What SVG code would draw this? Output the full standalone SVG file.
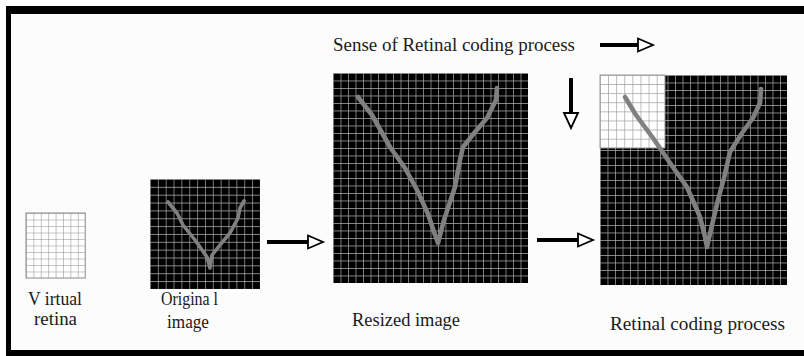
<svg xmlns="http://www.w3.org/2000/svg" width="804" height="356" viewBox="0 0 804 356">
  <defs>
    <style>
      .lbl { font-family: "Liberation Serif", "Times New Roman", serif; font-size: 18px; fill: #1a1a1a; }
      .stroke { fill: none; stroke: #808080; stroke-linecap: round; stroke-linejoin: round; }
      .shaft { stroke: #000; stroke-width: 4; fill: none; }
      .head { fill: #fff; stroke: #000; stroke-width: 1.8; stroke-linejoin: miter; }
    </style>
    <!-- cell grids: light lines on black, dark lines on white -->
    <pattern id="gOrig" patternUnits="userSpaceOnUse" x="150" y="179" width="7.85" height="7.85">
      <rect width="7.85" height="7.85" fill="#000"/>
      <path d="M0 0H7.85M0 0V7.85" stroke="#b4b4b4" stroke-width="1.3"/>
    </pattern>
    <pattern id="gBig" patternUnits="userSpaceOnUse" x="333" y="73" width="7.5" height="7.5">
      <rect width="7.5" height="7.5" fill="#000"/>
      <path d="M0 0H7.5M0 0V7.5" stroke="#b4b4b4" stroke-width="1.3"/>
    </pattern>
    <pattern id="gCode" patternUnits="userSpaceOnUse" x="600" y="75" width="7.5" height="7.5">
      <rect width="7.5" height="7.5" fill="#000"/>
      <path d="M0 0H7.5M0 0V7.5" stroke="#b4b4b4" stroke-width="1.3"/>
    </pattern>
    <pattern id="gWhite" patternUnits="userSpaceOnUse" x="600" y="75" width="8.1" height="9.1">
      <rect width="8.1" height="9.1" fill="#fff"/>
      <path d="M0 0H8.1M0 0V9.1" stroke="#9a9a9a" stroke-width="1.3"/>
    </pattern>
    <pattern id="gRetina" patternUnits="userSpaceOnUse" x="26" y="213" width="7.4" height="6.5">
      <rect width="7.4" height="6.5" fill="#fff"/>
      <path d="M0 0H7.4M0 0V6.5" stroke="#8a8a8a" stroke-width="1"/>
    </pattern>
  </defs>

  <!-- page and frame -->
  <rect width="804" height="356" fill="#ffffff"/>
  <rect x="11" y="14" width="793" height="336" fill="#fcfcfc"/>
  <rect x="6" y="6" width="798" height="8" fill="#000"/>
  <rect x="6" y="6" width="5" height="350" fill="#000"/>
  <rect x="6" y="350" width="798" height="6" fill="#000"/>

  <!-- virtual retina -->
  <g id="virtual-retina">
    <rect x="26" y="213" width="59.2" height="65" fill="url(#gRetina)" stroke="#8a8a8a" stroke-width="1"/>
    <text class="lbl" x="28" y="305" textLength="54" lengthAdjust="spacingAndGlyphs">V irtual</text>
    <text class="lbl" x="34" y="325" textLength="43" lengthAdjust="spacingAndGlyphs">retina</text>
  </g>

  <!-- original image -->
  <g id="original-image">
    <rect x="150" y="179" width="110" height="110" fill="url(#gOrig)"/>
    <path class="stroke" stroke-width="3.6" d="M168 202 L177 213 L183 225 L195 240 L207 257 L210 268 L212 255 L220 245 L230 233 L238 218 L240 208 L244 201"/>
    <text class="lbl" x="161" y="305" textLength="57" lengthAdjust="spacingAndGlyphs">Origina l</text>
    <text class="lbl" x="167" y="328" textLength="42" lengthAdjust="spacingAndGlyphs">image</text>
  </g>

  <!-- resized image -->
  <g id="resized-image">
    <rect x="333" y="73" width="195" height="210" fill="url(#gBig)"/>
    <path class="stroke" stroke-width="4.6" d="M358 97 L372 115 L390 147 L405 168 L417 190 L428 214 L434 232 L438 243 L444 220 L455 187 L460 160 L463 147 L475 132 L487 118 L496 100 L497 88"/>
    <text class="lbl" x="352" y="326" textLength="108" lengthAdjust="spacingAndGlyphs">Resized image</text>
  </g>

  <!-- retinal coding process -->
  <g id="coding-process">
    <rect x="600" y="75" width="187" height="210" fill="url(#gCode)"/>
    <rect x="600" y="75" width="65" height="73" fill="url(#gWhite)" stroke="#9a9a9a" stroke-width="1"/>
    <path class="stroke" stroke-width="4.6" d="M625 97 L636 115 L653 138 L670 163 L687 187 L700 217 L705 237 L707 247 L712 225 L718 200 L724 178 L730 152 L742 133 L753 118 L760 103 L761 89"/>
    <text class="lbl" x="610" y="330" textLength="175" lengthAdjust="spacingAndGlyphs">Retinal coding process</text>
  </g>

  <!-- direction note -->
  <g id="sense-note">
    <text class="lbl" x="333" y="51" textLength="242" lengthAdjust="spacingAndGlyphs">Sense of Retinal coding process</text>
  </g>

  <!-- connectors -->
  <g id="connectors">
    <path class="shaft" d="M267 242 H309"/>
    <polygon class="head" points="308,235.5 323,242 308,248.5"/>
    <path class="shaft" d="M537 240 H579"/>
    <polygon class="head" points="578,233.5 593,240 578,246.5"/>
    <path class="shaft" d="M600 45 H640"/>
    <polygon class="head" points="638,38.5 653,45 638,51.5"/>
    <path class="shaft" d="M571 78 V115"/>
    <polygon class="head" points="564,113 578,113 571,128"/>
  </g>
</svg>
